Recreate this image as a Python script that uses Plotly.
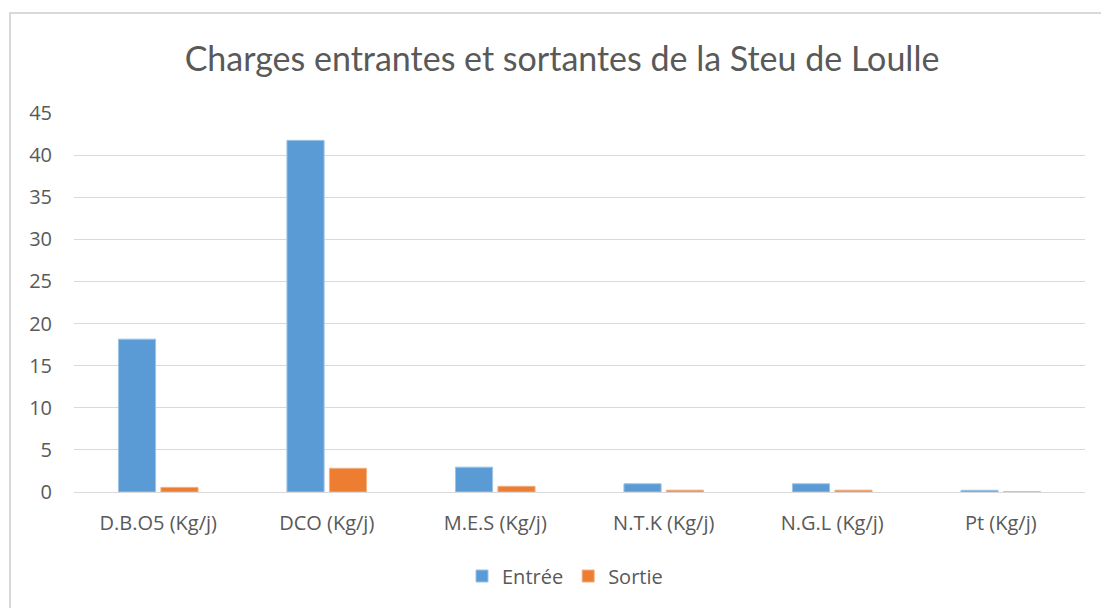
import plotly.graph_objects as go

# Loads per parameter (kg/day)
categories = ["D.B.O5 (Kg/j)", "DCO (Kg/j)", "M.E.S (Kg/j)", "N.T.K (Kg/j)", "N.G.L (Kg/j)", "Pt (Kg/j)"]
entree = [18.15, 41.75, 2.95, 0.98, 0.98, 0.2]
sortie = [0.55, 2.82, 0.68, 0.22, 0.22, 0.02]
y_ticks = [0, 5, 10, 15, 20, 25, 30, 35, 40, 45]

BLUE = "#5B9BD5"
ORANGE = "#ED7D31"
TEXT = "#595959"
GRID = "#D9D9D9"
TITLE_FONT = "Lato, 'Open Sans', sans-serif"
FONT = "'Open Sans', Lato, sans-serif"

fig = go.Figure()
fig.add_trace(go.Bar(x=categories, y=entree, name="Entrée",
                     marker=dict(color=BLUE, line=dict(color="#9DC3E6", width=1))))
fig.add_trace(go.Bar(x=categories, y=sortie, name="Sortie",
                     marker=dict(color=ORANGE, line=dict(color="#F4B183", width=1))))

W, H = 1101, 608
ml, mr, mt, mb = 74, 16, 113, 116
pw = W - ml - mr
ph = H - mt - mb

def px_x(x):
    return (x - ml) / pw

def px_y(y):
    return (H - mb - y) / ph

fig.update_layout(
    width=W, height=H,
    margin=dict(l=ml, r=mr, t=mt, b=mb),
    paper_bgcolor="white", plot_bgcolor="white",
    barmode="group", bargap=0.496, bargroupgap=0.125,
    title=dict(text="Charges entrantes et sortantes de la Steu de Loulle",
               x=px_x(562), xref="paper", xanchor="center",
               y=1 - 59 / H, yanchor="middle",
               font=dict(family=TITLE_FONT, size=34, color=TEXT)),
    font=dict(family=FONT, size=20, color=TEXT),
    legend=dict(orientation="h", x=px_x(565), xref="paper", xanchor="center",
                y=px_y(576), yanchor="middle",
                font=dict(family=FONT, size=20, color=TEXT),
                itemwidth=30, traceorder="normal"),
    showlegend=True,
    xaxis=dict(showgrid=False, showline=True, linecolor=GRID, linewidth=1,
               ticks="", tickfont=dict(size=20, color=TEXT),
               ticklabelstandoff=13),
    yaxis=dict(range=[0, 45], tickvals=y_ticks, showgrid=True, gridcolor=GRID,
               gridwidth=1, zeroline=False, showline=False, ticks="",
               tickfont=dict(size=20, color=TEXT), ticklabelstandoff=21),
    shapes=[dict(type="rect", xref="paper", yref="paper",
                 x0=px_x(10), x1=px_x(1115), y0=px_y(630), y1=px_y(13),
                 line=dict(color=GRID, width=2), fillcolor="rgba(0,0,0,0)",
                 layer="below")],
)

fig.write_html("out.html")
